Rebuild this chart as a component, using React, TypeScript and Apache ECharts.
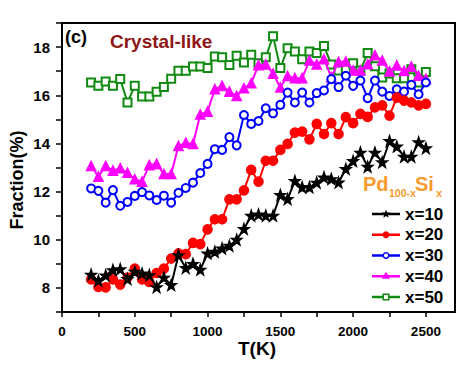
import React, { useEffect, useRef } from "react";
import * as echarts from "echarts";

const temps = [200, 250, 300, 350, 400, 450, 500, 550, 600, 650, 700, 750, 800, 850, 900, 950, 1000, 1050, 1100, 1150, 1200, 1250, 1300, 1350, 1400, 1450, 1500, 1550, 1600, 1650, 1700, 1750, 1800, 1850, 1900, 1950, 2000, 2050, 2100, 2150, 2200, 2250, 2300, 2350, 2400, 2450, 2500];

const x10 = [8.55, 8.3, 8.52, 8.74, 8.78, 8.37, 8.67, 8.6, 8.53, 8.03, 8.43, 8.12, 9.36, 8.83, 9.0, 8.76, 9.43, 9.5, 9.64, 9.75, 10.0, 10.45, 11.0, 11.05, 11.0, 11.0, 11.86, 11.69, 12.44, 12.18, 12.18, 12.37, 12.59, 12.52, 12.38, 12.94, 13.27, 13.62, 13.03, 13.62, 13.22, 14.1, 13.87, 13.45, 13.45, 14.05, 13.8];
const x20 = [8.35, 8.04, 8.02, 8.35, 8.14, 8.43, 8.8, 8.35, 8.25, 8.62, 8.8, 9.22, 9.43, 9.4, 9.87, 9.82, 10.43, 10.85, 10.85, 11.68, 11.68, 12.05, 12.9, 12.41, 13.28, 13.28, 13.73, 13.98, 14.45, 14.49, 14.17, 14.81, 14.39, 14.84, 14.39, 15.09, 14.84, 15.23, 15.1, 15.5, 15.58, 15.15, 15.9, 15.78, 15.7, 15.58, 15.64];
const x30 = [12.13, 12.03, 11.54, 12.06, 11.41, 11.57, 11.82, 11.98, 11.84, 11.65, 11.83, 11.54, 11.95, 12.15, 12.37, 12.77, 13.15, 13.76, 13.73, 14.26, 13.92, 15.18, 14.81, 14.93, 15.46, 15.25, 15.6, 16.11, 15.7, 16.11, 15.7, 16.09, 16.2, 16.67, 16.34, 16.81, 16.39, 16.61, 15.88, 16.61, 16.15, 15.97, 16.25, 16.15, 16.43, 16.04, 16.53];
const x40 = [13.06, 12.62, 13.06, 12.87, 12.97, 12.78, 12.51, 12.41, 13.1, 13.15, 12.73, 12.73, 13.89, 14.03, 13.98, 15.2, 15.32, 16.25, 16.39, 16.15, 15.97, 16.29, 16.5, 17.25, 17.28, 16.9, 16.32, 16.8, 16.71, 16.71, 17.45, 17.28, 17.5, 16.75, 17.38, 17.4, 17.03, 17.03, 17.29, 17.66, 17.44, 16.99, 17.24, 17.01, 17.19, 16.81, 16.68];
const x50 = [16.53, 16.39, 16.57, 16.39, 16.67, 15.7, 16.39, 15.95, 15.95, 16.15, 16.34, 16.69, 17.02, 17.02, 17.19, 17.19, 17.13, 17.61, 17.58, 17.26, 17.64, 17.36, 17.68, 17.33, 17.58, 18.45, 17.13, 17.95, 17.82, 17.5, 17.82, 17.75, 18.04, 17.28, 17.03, 17.08, 17.33, 17.03, 17.75, 17.2, 16.74, 16.9, 16.71, 16.71, 17.08, 16.53, 16.97];

const seriesNames = ["x=10", "x=20", "x=30", "x=40", "x=50"];
const xTickLabels = [0, 500, 1000, 1500, 2000, 2500];
const yTickLabels = [8, 10, 12, 14, 16, 18];

const FONT = "'Liberation Sans', Arial, sans-serif";
const STAR = "path://M0,-10L2.35,-3.24L9.51,-3.09L3.8,1.24L5.88,8.09L0,4L-5.88,8.09L-3.8,1.24L-9.51,-3.09L-2.35,-3.24Z";

function starPoints(cx: number, cy: number, ro: number, ri: number) {
  const pts: number[][] = [];
  for (let k = 0; k < 10; k++) {
    const a = -Math.PI / 2 + (k * Math.PI) / 5;
    const r = k % 2 === 0 ? ro : ri;
    pts.push([cx + r * Math.cos(a), cy + r * Math.sin(a)]);
  }
  return pts;
}

export default function App() {
  const ref = useRef<HTMLDivElement>(null);
  useEffect(() => {
    if (!ref.current) return;
    const chart = echarts.init(ref.current, null, { renderer: "svg" });
    const mk = (vals: number[]) => temps.map((t, i) => [t, vals[i]]);
    const specs = [
      { data: x10, color: "#000000", symbol: STAR, size: 10, z: 5 },
      { data: x20, color: "#ff0000", symbol: "circle", size: 9, z: 4 },
      { data: x30, color: "#0000ff", symbol: "emptyCircle", size: 8, z: 3 },
      { data: x40, color: "#ff00ff", symbol: "triangle", size: 9, z: 2 },
      { data: x50, color: "#118a11", symbol: "emptyRect", size: 8, z: 1 },
    ];

    // manual legend
    const lx0 = 372, lx1 = 400, cx = 386, tx = 405, y0 = 214, dy = 20.75;
    const legendEls: any[] = [];
    specs.forEach((s, i) => {
      const y = y0 + i * dy;
      legendEls.push({ type: "line", shape: { x1: lx0, y1: y, x2: lx1, y2: y }, style: { stroke: s.color, lineWidth: 2.5 } });
      if (i === 0) legendEls.push({ type: "polygon", shape: { points: starPoints(cx, y, 4.5, 1.9) }, style: { fill: s.color } });
      if (i === 1) legendEls.push({ type: "circle", shape: { cx, cy: y, r: 3.5 }, style: { fill: s.color } });
      if (i === 2) legendEls.push({ type: "circle", shape: { cx, cy: y, r: 2.8 }, style: { fill: "#fff", stroke: s.color, lineWidth: 1.5 } });
      if (i === 3) legendEls.push({ type: "polygon", shape: { points: [[cx, y - 4.5], [cx + 4.2, y + 2.5], [cx - 4.2, y + 2.5]] }, style: { fill: s.color } });
      if (i === 4) legendEls.push({ type: "rect", shape: { x: cx - 2.8, y: y - 2.8, width: 5.6, height: 5.6 }, style: { fill: "#fff", stroke: s.color, lineWidth: 1.5 } });
      legendEls.push({ type: "text", x: tx, y, style: { text: seriesNames[i], fill: "#000", font: `bold 17px ${FONT}`, align: "left", verticalAlign: "middle", textAlign: "left", textVerticalAlign: "middle" } });
    });

    chart.setOption({
      animation: false,
      backgroundColor: "#ffffff",
      grid: { left: 62, right: 15, top: 23, bottom: 54, show: true, borderColor: "#000", borderWidth: 2, backgroundColor: "transparent" },
      xAxis: {
        type: "value", min: 0, max: 2700, interval: 250,
        axisLine: { show: true, onZero: false, lineStyle: { color: "#000", width: 2 } },
        axisTick: { show: true, length: 5, lineStyle: { color: "#000", width: 1.5 } },
        axisLabel: {
          color: "#000", fontFamily: FONT, fontWeight: "bold", fontSize: 13.5, margin: 12, showMaxLabel: false,
          formatter: (v: number) => (xTickLabels.includes(v) ? String(v) : ""),
        },
        splitLine: { show: false },
      },
      yAxis: {
        type: "value", min: 7, max: 19, interval: 1,
        axisLine: { show: true, onZero: false, lineStyle: { color: "#000", width: 2 } },
        axisTick: { show: true, length: 6, lineStyle: { color: "#000", width: 1.5 } },
        axisLabel: {
          color: "#000", fontFamily: FONT, fontWeight: "bold", fontSize: 15, margin: 12,
          formatter: (v: number) => (yTickLabels.includes(v) ? String(v) : ""),
        },
        splitLine: { show: false },
      },
      series: specs.map((s, i) => ({
        type: "line", name: seriesNames[i], data: mk(s.data), z: s.z,
        symbol: s.symbol, symbolSize: s.size, showAllSymbol: true,
        lineStyle: { color: s.color, width: 2 },
        itemStyle: { color: s.color, borderColor: s.color, borderWidth: 1.6 },
        emphasis: { disabled: true },
      })),
      graphic: [
        { type: "text", x: 65, y: 37, style: { text: "(c)", fill: "#000", font: `bold 18px ${FONT}`, align: "left", verticalAlign: "middle", textAlign: "left", textVerticalAlign: "middle" } },
        { type: "text", x: 110, y: 41, style: { text: "Crystal-like", fill: "#8e1616", font: `bold 19px ${FONT}`, align: "left", verticalAlign: "middle", textAlign: "left", textVerticalAlign: "middle" } },
        { type: "text", x: 363, y: 184, style: { text: "Pd", fill: "#f89a2e", font: `bold 20px ${FONT}`, align: "left", verticalAlign: "middle", textAlign: "left", textVerticalAlign: "middle" } },
        { type: "text", x: 389, y: 193, style: { text: "100-x", fill: "#f89a2e", font: `bold 10.5px ${FONT}`, align: "left", verticalAlign: "middle", textAlign: "left", textVerticalAlign: "middle" } },
        { type: "text", x: 415, y: 184, style: { text: "Si", fill: "#f89a2e", font: `bold 20px ${FONT}`, align: "left", verticalAlign: "middle", textAlign: "left", textVerticalAlign: "middle" } },
        { type: "text", x: 436, y: 193, style: { text: "x", fill: "#f89a2e", font: `bold 11px ${FONT}`, align: "left", verticalAlign: "middle", textAlign: "left", textVerticalAlign: "middle" } },
        { type: "text", x: 257, y: 348, style: { text: "T(K)", fill: "#000", font: `bold 19px ${FONT}`, align: "center", verticalAlign: "middle", textAlign: "center", textVerticalAlign: "middle" } },
        { type: "text", x: 17, y: 180, rotation: Math.PI / 2, style: { text: "Fraction(%)", fill: "#000", font: `bold 18px ${FONT}`, align: "center", verticalAlign: "middle", textAlign: "center", textVerticalAlign: "middle" } },
        ...legendEls,
      ],
    });
    return () => chart.dispose();
  }, []);
  return <div ref={ref} style={{ position: "fixed", left: 0, top: 0, width: 470, height: 366 }} />;
}
